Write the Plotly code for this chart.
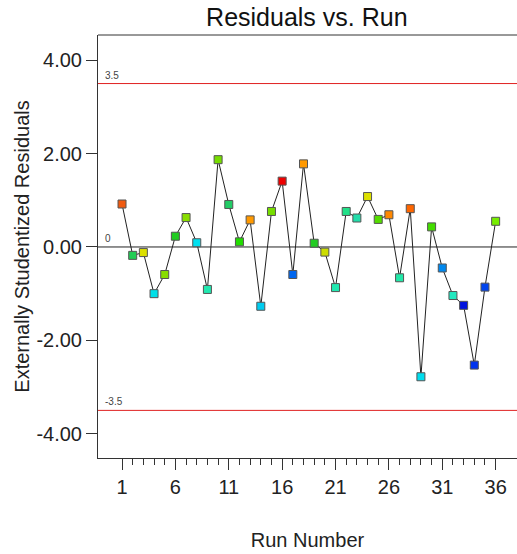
import plotly.graph_objects as go

runs = list(range(1, 37))
residuals = [0.92, -0.18, -0.12, -1.00, -0.59, 0.23, 0.63, 0.09, -0.91, 1.87,
             0.91, 0.11, 0.58, -1.27, 0.76, 1.41, -0.59, 1.78, 0.08, -0.11,
             -0.87, 0.76, 0.62, 1.08, 0.59, 0.69, -0.66, 0.82, -2.78, 0.43,
             -0.45, -1.04, -1.25, -2.53, -0.86, 0.55]
point_colors = ["#F05A10", "#22CC55", "#DDE000", "#00E0E8", "#88DD00", "#22CC22",
                "#88DD00", "#00E0F0", "#22E8B0", "#77DD00", "#22CC66", "#22DD00",
                "#FF9900", "#00CCF0", "#77DD00", "#EE0000", "#0066EE", "#FF9900",
                "#22CC22", "#CCDD00", "#22E8B0", "#22E088", "#22DDAA", "#DDE000",
                "#55DD00", "#FF8800", "#22E8A8", "#FF6600", "#00DDEE", "#44DD00",
                "#0088EE", "#22E8C0", "#0011DD", "#0033EE", "#0044EE", "#77EE00"]
limits = [3.5, -3.5]
limit_labels = ["3.5", "-3.5"]
y_ticks = [-4, -2, 0, 2, 4]
y_tick_text = ["-4.00", "-2.00", "0.00", "2.00", "4.00"]
x_ticks = [1, 6, 11, 16, 21, 26, 31, 36]

fig = go.Figure()
fig.add_trace(go.Scatter(
    x=runs, y=residuals, mode="lines+markers",
    line=dict(color="#222222", width=1),
    marker=dict(symbol="square", size=8, color=point_colors,
                line=dict(color="#555555", width=1)),
    showlegend=False, hoverinfo="x+y"))

shapes = [dict(type="line", xref="paper", x0=0, x1=1, yref="y", y0=0, y1=0,
               line=dict(color="#222222", width=1), layer="below")]
for v in limits:
    shapes.append(dict(type="line", xref="paper", x0=0, x1=1, yref="y", y0=v, y1=v,
                       line=dict(color="#E02020", width=1), layer="below"))
shapes.append(dict(type="line", xref="paper", yref="paper", x0=0, x1=1, y0=1, y1=1,
                   line=dict(color="#333333", width=1)))

annotations = []
for v, t in zip(limits + [0], limit_labels + ["0"]):
    annotations.append(dict(x=0.012, xref="paper", y=v, yref="y", text=t,
                            showarrow=False, xanchor="left", yanchor="bottom",
                            yshift=1, font=dict(size=10, color="#444444",
                                                family="Arial, Liberation Sans")))

fig.update_layout(
    width=517, height=554,
    margin=dict(l=98, r=0, t=35, b=96),
    paper_bgcolor="white", plot_bgcolor="white",
    font=dict(family="Arial, Liberation Sans, sans-serif", color="#222222"),
    title=dict(text="Residuals vs. Run", x=0.5935, xanchor="center",
               y=0.968, yanchor="middle", font=dict(size=25, color="#111111")),
    shapes=shapes, annotations=annotations,
    xaxis=dict(range=[-1.25, 38], tickmode="array", tickvals=x_ticks,
               ticks="outside", ticklen=11, tickcolor="#333333", tickwidth=1,
               minor=dict(tickmode="array", tickvals=runs, ticks="outside",
                          ticklen=6, tickcolor="#333333", showgrid=False),
               showgrid=False, zeroline=False, showline=True, linecolor="#333333",
               linewidth=1, mirror=False,
               tickfont=dict(size=20, color="#222222"),
               title=dict(text="Run Number", font=dict(size=20, color="#222222"),
                          standoff=35)),
    yaxis=dict(range=[-4.52, 4.54], tickmode="array", tickvals=y_ticks,
               ticktext=y_tick_text, ticks="outside", ticklen=11,
               tickcolor="#333333", showgrid=False, zeroline=False,
               showline=True, linecolor="#333333", linewidth=1,
               tickfont=dict(size=20, color="#222222"),
               title=dict(text="Externally Studentized Residuals",
                          font=dict(size=20, color="#222222"), standoff=1)),
)

fig.write_html("out.html")
